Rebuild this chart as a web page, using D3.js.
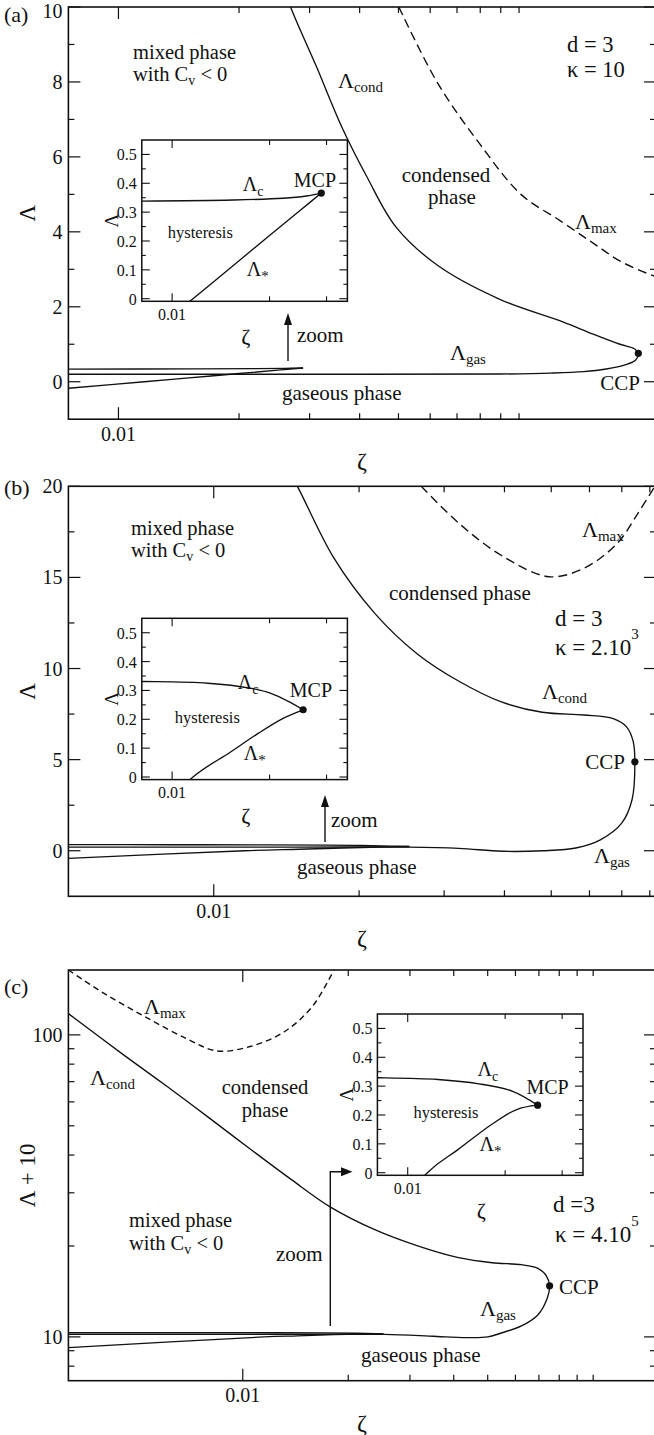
<!DOCTYPE html>
<html>
<head>
<meta charset="utf-8">
<script src="https://cdn.jsdelivr.net/npm/d3@7/dist/d3.min.js"></script>
<style>
  html, body { margin: 0; padding: 0; background: #fff; }
  svg { display: block; }
</style>
</head>
<body>
<svg id="fig" width="654" height="1435" viewBox="0 0 654 1435"></svg>
<script>
// ---------- tick values ----------
const zetaMajorTicks = [0.01];
const zetaMajorLabels = ["0.01"];
const zetaMinorTicks = [0.02, 0.03, 0.04, 0.05, 0.06, 0.07, 0.08, 0.09, 0.1];
const insetZetaMajor = [0.01];
const insetZetaMinor = [0.02, 0.03];
const insetLamMajor = [0, 0.1, 0.2, 0.3, 0.4, 0.5];
const insetLamMinor = [0.05, 0.15, 0.25, 0.35, 0.45];
const aLamMajor = [0, 2, 4, 6, 8, 10];
const aLamMinor = [1, 3, 5, 7, 9];
const bLamMajor = [0, 5, 10, 15, 20];
const bLamMinor = [2.5, 7.5, 12.5, 17.5];
const cShiftMajor = [10, 100];
const cShiftMinor = [8, 9, 20, 30, 40, 50, 60, 70, 80, 90];

// ---------- (a) kappa = 10 ----------
const aGasZeta  = [0.0075, 0.03, 0.0895, 0.12, 0.145, 0.165, 0.184, 0.1955, 0.1985];
const aGasLam   = [0.2, 0.2, 0.205, 0.23, 0.27, 0.34, 0.45, 0.58, 0.76];
const aCondZeta = [0.1985, 0.194, 0.1786, 0.1531, 0.1286, 0.0895, 0.0627, 0.0492, 0.0417, 0.0361, 0.0312, 0.0269, 0.0262];
const aCondLam  = [0.76, 0.88, 1.0, 1.27, 1.6, 2.2, 3.1, 4.14, 5.47, 6.8, 8.41, 10, 10.4];
const aMaxZeta  = [0.0501, 0.0627, 0.0796, 0.1011, 0.1265, 0.1531, 0.18, 0.2197];
const aMaxLam   = [10, 7.96, 6.36, 5.0, 4.3, 3.7, 3.2, 2.8];
const aCritZeta = [0.0075, 0.0154, 0.022, 0.026, 0.0289];
const aCritLam  = [0.338, 0.342, 0.348, 0.356, 0.366];
const aStarZeta = [0.0075, 0.0116, 0.015, 0.02, 0.025, 0.0289];
const aStarLam  = [-0.175, 0, 0.103, 0.219, 0.308, 0.366];

// ---------- (b) kappa = 2.10^3 ----------
const bGasZeta  = [0.005, 0.015, 0.0253, 0.0322, 0.0396, 0.048, 0.0562, 0.0632, 0.0699, 0.0735, 0.0745];
const bGasLam   = [0.2, 0.2, 0.2, 0.13, -0.03, 0.0, 0.15, 0.6, 1.5, 2.8, 4.88];
const bCondZeta = [0.0745, 0.0739, 0.0716, 0.0672, 0.0584, 0.0479, 0.0393, 0.0322, 0.0264, 0.0216, 0.0177, 0.0149, 0.0145];
const bCondLam  = [4.88, 6.0, 6.8, 7.25, 7.45, 7.6, 8.18, 9.3, 10.8, 13.0, 16.1, 20, 20.5];
const bMaxZeta  = [0.0269, 0.0322, 0.0393, 0.0494, 0.0584, 0.0685, 0.0756, 0.0824];
const bMaxLam   = [20, 17.97, 16.23, 15.04, 15.5, 16.87, 18.52, 20.1];
const bCritZeta = [0.005, 0.0081, 0.0129, 0.0174, 0.0202, 0.0234, 0.0254];
const bCritLam  = [0.332, 0.331, 0.325, 0.308, 0.29, 0.256, 0.233];
const bStarZeta = [0.005, 0.0116, 0.015, 0.0185, 0.0221, 0.0254];
const bStarLam  = [-0.42, 0, 0.083, 0.152, 0.204, 0.233];

// ---------- (c) kappa = 4.10^5 (plotted as Λ + 10) ----------
const cGasZeta  = [0.00318, 0.01, 0.02, 0.0254, 0.032, 0.038, 0.045, 0.05, 0.0544, 0.0624, 0.0695, 0.0739, 0.0751];
const cGasLam   = [0.2, 0.2, 0.2, 0.19, 0.1, 0.0, -0.06, 0.0, 0.28, 0.87, 1.82, 3.4, 4.76];
const cCondZeta = [0.0751, 0.0735, 0.0695, 0.0624, 0.0515, 0.0413, 0.0314, 0.0239, 0.0178, 0.0138, 0.0105, 0.008, 0.0061, 0.0046, 0.00318];
const cCondLam  = [4.76, 5.93, 6.87, 7.34, 7.6, 8.29, 10.05, 12.6, 16.9, 23.1, 31.9, 43.2, 57.3, 75.4, 107.6];
const cMaxZeta  = [0.00318, 0.00403, 0.0053, 0.00697, 0.00844, 0.0105, 0.0131, 0.0158, 0.0182];
const cMaxLam   = [154, 127, 104.3, 86.7, 78.5, 81.5, 92.2, 114.2, 154];
const cCritZeta = [0.00318, 0.0081, 0.0124, 0.0166, 0.0211, 0.0252];
const cCritLam  = [0.33, 0.329, 0.323, 0.308, 0.282, 0.234];
const cStarZeta = [0.00318, 0.0115, 0.0143, 0.0182, 0.0217, 0.0252];
const cStarLam  = [-0.79, 0, 0.08, 0.168, 0.219, 0.234];

// ---------- drawing ----------
const INK = "#111";
const SERIF = "'Liberation Serif', 'DejaVu Serif', serif";
const svg = d3.select("#fig").attr("font-family", SERIF);
const smooth = d3.line().curve(d3.curveCatmullRom.alpha(0.5));
let clipCount = 0;

function addText(g, x, y, parts, size, anchor) {
  const t = g.append("text").attr("x", x).attr("y", y)
    .attr("font-family", SERIF).attr("fill", INK)
    .attr("font-size", size).attr("text-anchor", anchor || "start")
    .attr("dominant-baseline", "central");
  let shift = 0;
  parts.forEach(p => {
    if (typeof p === "string") {
      t.append("tspan").attr("dy", -shift).text(p); shift = 0;
    } else if (p.sub !== undefined) {
      const d = p.dy !== undefined ? p.dy : size * 0.34;
      t.append("tspan").attr("dy", d - shift).attr("font-size", p.size || size * 0.68).text(p.sub); shift = d;
    } else if (p.sup !== undefined) {
      const d = -(p.dy !== undefined ? p.dy : size * 0.55);
      t.append("tspan").attr("dy", d - shift).attr("font-size", p.size || size * 0.65).text(p.sup); shift = d;
    }
  });
  return t;
}

function clipRect(x0, y0, x1, y1) {
  const id = "clip" + (clipCount++);
  svg.append("clipPath").attr("id", id).append("rect")
    .attr("x", x0).attr("y", y0).attr("width", x1 - x0).attr("height", y1 - y0);
  return "url(#" + id + ")";
}

function pathOf(xs, ys, zetas, lams, shift) {
  return smooth(zetas.map((z, i) => [xs(z), ys(lams[i] + shift)]));
}

function ticks(g, xs, ys, box, spec) {
  const tk = g.append("g").attr("stroke", INK).attr("stroke-width", spec.w || 1.2);
  const draw = (vals, len, isX) => vals.forEach(v => {
    if (isX) {
      const x = xs(v);
      tk.append("line").attr("x1", x).attr("x2", x).attr("y1", box.bottom).attr("y2", box.bottom - len);
      tk.append("line").attr("x1", x).attr("x2", x).attr("y1", box.top).attr("y2", box.top + len);
    } else {
      const y = ys(v);
      tk.append("line").attr("y1", y).attr("y2", y).attr("x1", box.left).attr("x2", box.left + len);
      tk.append("line").attr("y1", y).attr("y2", y).attr("x1", box.right).attr("x2", box.right - len);
    }
  });
  draw(spec.xMajor, spec.xMajLen, true);
  draw(spec.xMinor, spec.xMinLen, true);
  draw(spec.yMajor, spec.yMajLen, false);
  draw(spec.yMinor, spec.yMinLen, false);
}

function dot(g, x, y) {
  g.append("circle").attr("cx", x).attr("cy", y).attr("r", 3.6).attr("fill", INK);
}

function drawInset(g, left, top, d, lab) {
  const w = 205.6, h = 161.3;
  const box = { left, top, right: left + w, bottom: top + h };
  const xs = d3.scaleLog().domain([0.00806, 0.0348]).range([left, left + w]);
  const ys = d3.scaleLinear().domain([-0.009, 0.55]).range([top + h, top]);
  g.append("rect").attr("x", left).attr("y", top).attr("width", w).attr("height", h)
    .attr("fill", "#fff").attr("stroke", "none");
  ticks(g, xs, ys, box, { xMajor: insetZetaMajor, xMinor: insetZetaMinor, yMajor: insetLamMajor, yMinor: insetLamMinor,
    xMajLen: 8, xMinLen: 5, yMajLen: 8, yMinLen: 4, w: 1.1 });
  const cl = clipRect(left, top, left + w, top + h);
  const cg = g.append("g").attr("clip-path", cl).attr("fill", "none").attr("stroke", INK).attr("stroke-width", 1.35);
  cg.append("path").attr("d", pathOf(xs, ys, d.critZeta, d.critLam, 0));
  cg.append("path").attr("d", pathOf(xs, ys, d.starZeta, d.starLam, 0));
  const n = d.critZeta.length - 1;
  dot(g, xs(d.critZeta[n]), ys(d.critLam[n]));
  g.append("rect").attr("x", left).attr("y", top).attr("width", w).attr("height", h)
    .attr("fill", "none").attr("stroke", INK).attr("stroke-width", 1.5);
  insetLamMajor.forEach(v => addText(g, left - 5, ys(v), [String(v)], 16, "end"));
  insetZetaMajor.forEach(v => addText(g, xs(v), top + h + 12.5, [zetaMajorLabels[0]], 16, "middle"));
  addText(g, left - 31, top + h / 2, ["Λ"], 19, "middle").attr("transform", `rotate(-90,${left - 31},${top + h / 2})`);
  addText(g, left + 104, top + h + 35, ["ζ"], 22, "middle");
  addText(g, left + lab.crit[0], top + lab.crit[1], ["Λ", { sub: "c", dy: 7, size: 14 }], 20);
  addText(g, left + lab.mcp[0], top + lab.mcp[1], ["MCP"], 20);
  addText(g, left + lab.hyst[0], top + lab.hyst[1], ["hysteresis"], 16.5);
  addText(g, left + lab.star[0], top + lab.star[1], ["Λ", { sub: "*", dy: 7, size: 15 }], 20);
}

function drawPanel(p) {
  const g = svg.append("g");
  const box = { left: p.left, right: p.right, top: p.top, bottom: p.bottom };
  const xs = d3.scaleLog().domain(p.xDomain).range([p.left, p.right]);
  const ys = (p.yLog ? d3.scaleLog() : d3.scaleLinear()).domain(p.yDomain).range([p.bottom, p.top]);
  const sh = p.shift || 0;

  ticks(g, xs, ys, box, { xMajor: zetaMajorTicks, xMinor: zetaMinorTicks, yMajor: p.yMajor, yMinor: p.yMinor,
    xMajLen: 12, xMinLen: 6, yMajLen: 12, yMinLen: 6, w: 1.2 });

  const cl = clipRect(p.left, p.top, p.right, p.bottom);
  const cg = g.append("g").attr("clip-path", cl).attr("fill", "none").attr("stroke", INK).attr("stroke-width", 1.35);
  const d = p.data;
  // gas branch up to the condensation critical point, then the condensed branch
  const foldZeta = d.gasZeta.concat(d.condZeta.slice(1));
  const foldLam = d.gasLam.concat(d.condLam.slice(1));
  cg.append("path").attr("d", pathOf(xs, ys, foldZeta, foldLam, sh));
  cg.append("path").attr("d", pathOf(xs, ys, d.critZeta, d.critLam, sh));
  cg.append("path").attr("d", pathOf(xs, ys, d.starZeta, d.starLam, sh));
  cg.append("path").attr("d", pathOf(xs, ys, d.maxZeta, d.maxLam, sh))
    .attr("stroke-dasharray", p.dash).attr("stroke-width", 1.4);
  dot(g, xs(d.condZeta[0]), ys(d.condLam[0] + sh));

  g.append("rect").attr("x", p.left).attr("y", p.top).attr("width", p.right - p.left).attr("height", p.bottom - p.top)
    .attr("fill", "none").attr("stroke", INK).attr("stroke-width", 1.6);

  // tick labels and axis titles
  p.yMajor.forEach(v => addText(g, p.left - 6, Math.max(ys(v), 11), [String(v)], 20, "end"));
  zetaMajorTicks.forEach((v, i) => addText(g, xs(v), p.bottom + 14.5, [zetaMajorLabels[i]], 20, "middle"));
  addText(g, 362, p.bottom + 42, ["ζ"], 24, "middle");
  const cy = (p.top + p.bottom) / 2;
  addText(g, 27, cy, p.yTitle, 23, "middle").attr("transform", `rotate(-90,27,${cy})`);
  addText(g, 4, p.tagY, [p.tag], 22, "start");

  // zoom arrow towards the inset
  const ag = g.append("g");
  ag.append("path").attr("d", p.arrow.line).attr("fill", "none").attr("stroke", INK).attr("stroke-width", 1.4);
  ag.append("path").attr("d", p.arrow.head).attr("fill", INK);

  p.labels.forEach(l => addText(g, l.x, l.y, l.parts, l.size, l.anchor));
  drawInset(g, p.inset.left, p.inset.top, d, p.inset.lab);
}

const subLam = (s) => ({ sub: s, dy: 7, size: 15 });

// (a)
drawPanel({
  tag: "(a)", tagY: 14, left: 68.4, right: 656, top: 7, bottom: 419.2,
  xDomain: [0.0075, 0.2197], yDomain: [-1, 10], yMajor: aLamMajor, yMinor: aLamMinor,
  yTitle: ["Λ"], dash: "9,5",
  data: { gasZeta: aGasZeta, gasLam: aGasLam, condZeta: aCondZeta, condLam: aCondLam, maxZeta: aMaxZeta, maxLam: aMaxLam,
          critZeta: aCritZeta, critLam: aCritLam, starZeta: aStarZeta, starLam: aStarLam },
  arrow: { line: "M288,361V322", head: "M288,313L284,325L292,325Z" },
  inset: { left: 141.8, top: 140, lab: { crit: [101, 44], mcp: [152, 40], hyst: [26, 92], star: [105, 129] } },
  labels: [
    { x: 133, y: 52, parts: ["mixed phase"], size: 20.5 },
    { x: 133, y: 74, parts: ["with C", { sub: "v", dy: 6, size: 14 }, " < 0"], size: 20.5 },
    { x: 338, y: 80, parts: ["Λ", subLam("cond")], size: 22 },
    { x: 446, y: 175, parts: ["condensed"], size: 21, anchor: "middle" },
    { x: 452, y: 197, parts: ["phase"], size: 21, anchor: "middle" },
    { x: 575, y: 221, parts: ["Λ", subLam("max")], size: 22 },
    { x: 567, y: 44, parts: ["d = 3"], size: 22.5 },
    { x: 567, y: 69, parts: ["κ = 10"], size: 22.5 },
    { x: 450, y: 352, parts: ["Λ", subLam("gas")], size: 22 },
    { x: 640, y: 383, parts: ["CCP"], size: 21, anchor: "end" },
    { x: 282, y: 393, parts: ["gaseous phase"], size: 21 },
    { x: 297, y: 335, parts: ["zoom"], size: 21 }
  ]
});

// (b)
drawPanel({
  tag: "(b)", tagY: 487, left: 68.4, right: 656, top: 486.3, bottom: 896.3,
  xDomain: [0.005, 0.0824], yDomain: [-2.5, 20], yMajor: bLamMajor, yMinor: bLamMinor,
  yTitle: ["Λ"], dash: "9,5",
  data: { gasZeta: bGasZeta, gasLam: bGasLam, condZeta: bCondZeta, condLam: bCondLam, maxZeta: bMaxZeta, maxLam: bMaxLam,
          critZeta: bCritZeta, critLam: bCritLam, starZeta: bStarZeta, starLam: bStarLam },
  arrow: { line: "M325,842V804", head: "M325,795L321,807L329,807Z" },
  inset: { left: 141.8, top: 618.3, lab: { crit: [96, 64], mcp: [148, 72], hyst: [33, 99], star: [102, 135] } },
  labels: [
    { x: 131, y: 528, parts: ["mixed phase"], size: 20.5 },
    { x: 131, y: 550, parts: ["with C", { sub: "v", dy: 6, size: 14 }, " < 0"], size: 20.5 },
    { x: 389, y: 593, parts: ["condensed phase"], size: 21 },
    { x: 582, y: 529, parts: ["Λ", subLam("max")], size: 22 },
    { x: 555, y: 618, parts: ["d = 3"], size: 23 },
    { x: 555, y: 647, parts: ["κ = 2.10", { sup: "3", dy: 13, size: 15 }], size: 23 },
    { x: 542, y: 691, parts: ["Λ", subLam("cond")], size: 22 },
    { x: 625, y: 762, parts: ["CCP"], size: 21, anchor: "end" },
    { x: 594, y: 855, parts: ["Λ", subLam("gas")], size: 22 },
    { x: 297, y: 867, parts: ["gaseous phase"], size: 21 },
    { x: 331, y: 820, parts: ["zoom"], size: 21 }
  ]
});

// (c)
drawPanel({
  tag: "(c)", tagY: 986, left: 68.4, right: 656, top: 970, bottom: 1380.7,
  xDomain: [0.00318, 0.1511], yDomain: [7.16, 164], yLog: true, shift: 10,
  yMajor: cShiftMajor, yMinor: cShiftMinor,
  yTitle: ["Λ + 10"], dash: "6,4",
  data: { gasZeta: cGasZeta, gasLam: cGasLam, condZeta: cCondZeta, condLam: cCondLam, maxZeta: cMaxZeta, maxLam: cMaxLam,
          critZeta: cCritZeta, critLam: cCritLam, starZeta: cStarZeta, starLam: cStarLam },
  arrow: { line: "M330.3,1326V1171.7H343", head: "M352.5,1171.7L341,1167.2L341,1176.2Z" },
  inset: { left: 377.4, top: 1014, lab: { crit: [100, 55], mcp: [149, 73], hyst: [36, 98], star: [102, 130] } },
  labels: [
    { x: 144, y: 1006, parts: ["Λ", subLam("max")], size: 22 },
    { x: 90, y: 1077, parts: ["Λ", subLam("cond")], size: 22 },
    { x: 265, y: 1087, parts: ["condensed"], size: 20.5, anchor: "middle" },
    { x: 265, y: 1110, parts: ["phase"], size: 20.5, anchor: "middle" },
    { x: 129, y: 1220, parts: ["mixed phase"], size: 20.5 },
    { x: 129, y: 1243, parts: ["with C", { sub: "v", dy: 6, size: 14 }, " < 0"], size: 20.5 },
    { x: 276, y: 1254, parts: ["zoom"], size: 21 },
    { x: 553, y: 1204, parts: ["d =3"], size: 23 },
    { x: 555, y: 1234, parts: ["κ = 4.10", { sup: "5", dy: 13, size: 15 }], size: 23 },
    { x: 559, y: 1287, parts: ["CCP"], size: 21 },
    { x: 480, y: 1308, parts: ["Λ", subLam("gas")], size: 22 },
    { x: 361, y: 1355, parts: ["gaseous phase"], size: 21 }
  ]
});
</script>
</body>
</html>
